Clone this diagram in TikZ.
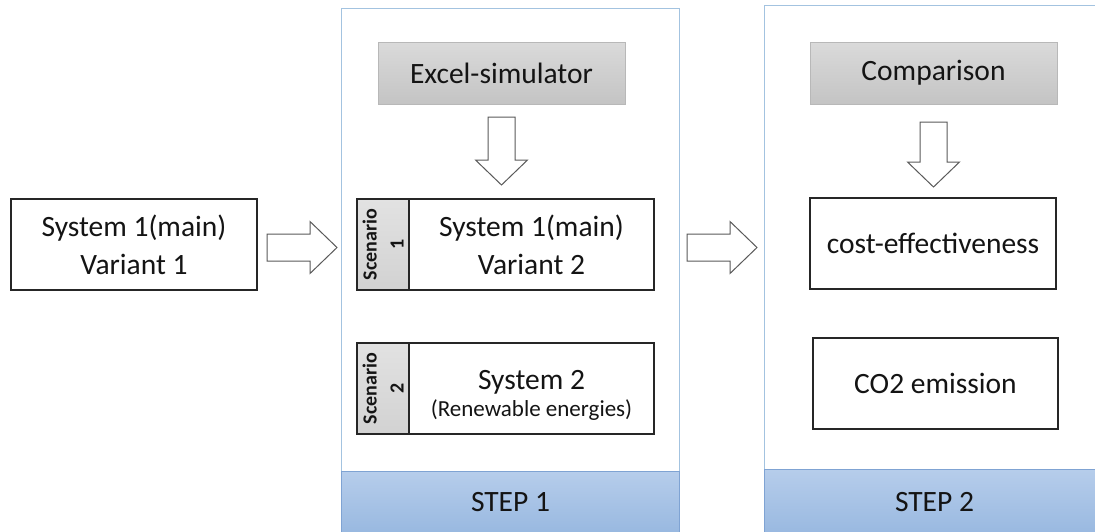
\documentclass[tikz,border=0pt]{standalone}
\usepackage{fontspec}
\setmainfont{Carlito}
\usetikzlibrary{calc}
\definecolor{panelline}{HTML}{A3C3E0}
\definecolor{bandline}{HTML}{7FA3D3}
\definecolor{bandtop}{HTML}{B6CDEB}
\definecolor{bandbot}{HTML}{98B8E0}
\definecolor{greytop}{HTML}{DADADA}
\definecolor{greybot}{HTML}{C4C4C4}
\definecolor{greyline}{HTML}{B8B8B8}
\definecolor{striptop}{HTML}{E2E2E2}
\definecolor{stripbot}{HTML}{D2D2D2}
\definecolor{boxline}{HTML}{262626}
\definecolor{arrowline}{HTML}{5A5A5A}
\definecolor{txt}{HTML}{141414}
\newcommand\harrow[2]{\draw[blockarrow] ($(#1)+(0,-13.5)$) -- ($(#2)+(-27,-13.5)$) -- ($(#2)+(-27,-26)$) -- (#2) -- ($(#2)+(-27,26)$) -- ($(#2)+(-27,13.5)$) -- ($(#1)+(0,13.5)$) -- cycle;}
\newcommand\varrow[2]{\draw[blockarrow] ($(#1)+(-13.5,0)$) -- ($(#2)+(-13.5,-25)$) -- ($(#2)+(-26,-25)$) -- (#2) -- ($(#2)+(26,-25)$) -- ($(#2)+(13.5,-25)$) -- ($(#1)+(13.5,0)$) -- cycle;}
\begin{document}
\begin{tikzpicture}[x=1pt,y=-1pt,
  bigfont/.style={font=\fontsize{29.5pt}{38pt}\selectfont, text=txt},
  panelbox/.style={draw=panelline, line width=1pt, fill=white, anchor=north west, inner sep=0pt},
  bandbox/.style={draw=bandline, line width=1pt, top color=bandtop, bottom color=bandbot, anchor=north west, inner sep=0pt, bigfont},
  greybox/.style={draw=greyline, line width=1pt, top color=greytop, bottom color=greybot, minimum width=247pt, minimum height=62pt, inner sep=0pt, bigfont},
  whitebox/.style={draw=boxline, line width=1.1pt, fill=white, minimum height=91pt, inner sep=0pt, align=center, bigfont},
  plaintext/.style={inner sep=0pt, align=center, bigfont},
  scenbox/.style={draw=boxline, line width=1.1pt, top color=striptop, bottom color=stripbot, rotate=90, minimum width=91pt, minimum height=52pt, inner sep=0pt, align=center, font=\fontsize{20pt}{27pt}\selectfont\bfseries, text=txt},
  blockarrow/.style={draw=arrowline, line width=1pt, fill=white, line join=miter}
]
\clip (0,0) rectangle (1095,531);
\fill[white] (0,0) rectangle (1095,531);

% panels
\node[panelbox, minimum width=338pt, minimum height=540pt] (p1) at (341,8) {};
\node[bandbox, minimum width=338pt, minimum height=62pt] (s1) at (341,471) {STEP 1};
\node[panelbox, minimum width=340pt, minimum height=540pt] (p2) at (764,5) {};
\node[bandbox, minimum width=340pt, minimum height=66pt] (s2) at (764,469) {STEP 2};

% left box
\node[whitebox, minimum width=246pt] (v1) at (134,244.5) {System 1(main)\\Variant 1};

% step 1 contents
\node[greybox] (excel) at (501.5,73) {Excel-simulator};
\node[whitebox, minimum width=245pt] (sc1) at (531.5,244.5) {System 1(main)\\Variant 2};
\node[scenbox] (l1) at (383,244.5) {Scenario\\1};
\node[whitebox, minimum width=245pt] (sc2) at (531.5,388.5) {};
\node[plaintext] (sc2t) at (531.5,395.5) {System 2\\[-11pt]{\fontsize{23pt}{28pt}\selectfont (Renewable energies)}};
\node[scenbox] (l2) at (383,388.5) {Scenario\\2};

% step 2 contents
\node[greybox] (comp) at (933.5,73) {Comparison};
\node[whitebox, minimum width=246pt] (cost) at (933,243.5) {cost-effectiveness};
\node[whitebox, minimum width=245pt] (co2) at (935.5,383.5) {CO2 emission};

% block arrows
\coordinate (a1s) at (267,247.5);
\coordinate (a1e) at (337,247.5);
\coordinate (a2s) at (687,247.5);
\coordinate (a2e) at (757,247.5);
\coordinate (d1s) at (501.5,117);
\coordinate (d1e) at (501.5,185);
\coordinate (d2s) at (933.5,122);
\coordinate (d2e) at (933.5,187);
\harrow{a1s}{a1e}
\harrow{a2s}{a2e}
\varrow{d1s}{d1e}
\varrow{d2s}{d2e}
\end{tikzpicture}
\end{document}
